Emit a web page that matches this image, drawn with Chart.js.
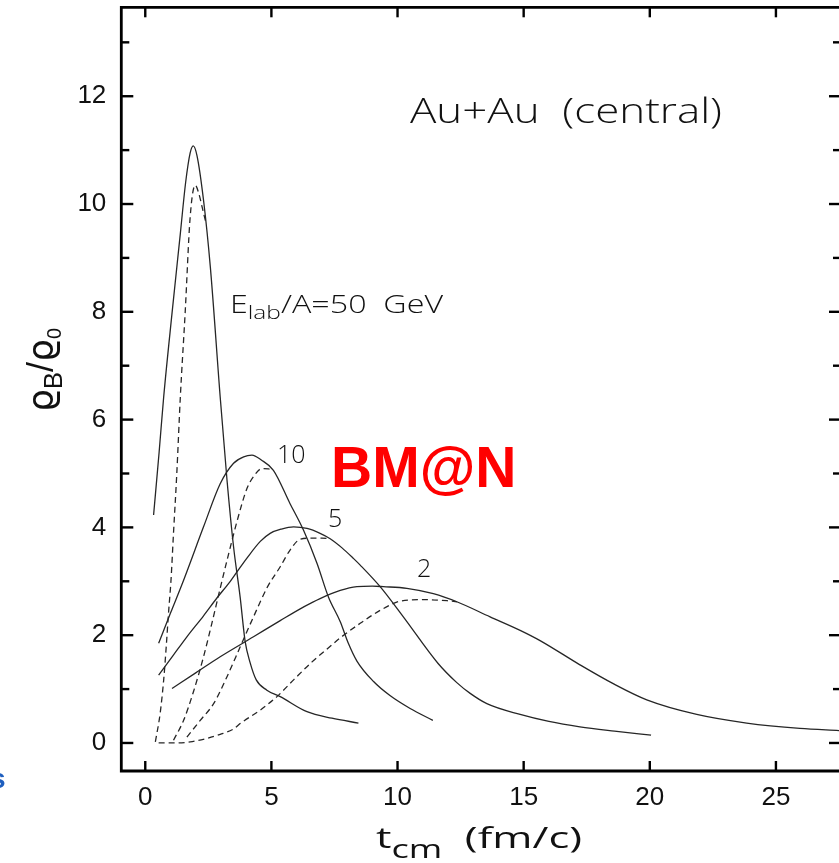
<!DOCTYPE html>
<html>
<head>
<meta charset="utf-8">
<script src="https://cdn.jsdelivr.net/npm/chart.js@4.4.1/dist/chart.umd.min.js"></script>
<style>
  html, body { margin: 0; padding: 0; background: #fff; overflow: hidden; }
  #wrap { position: absolute; left: 0; top: 0; width: 839px; height: 863px; }
</style>
</head>
<body>
<div id="wrap"><canvas id="densityChart" width="839" height="863"></canvas></div>
<script>
// baryon density in central Au+Au, solid and dashed curves per beam energy
const t50 = [0.33, 0.55, 0.73, 1.06, 1.39, 1.6, 1.78, 1.9, 2.05, 2.31, 2.58, 2.97, 3.24, 3.5, 3.76, 3.96, 4.15, 4.4, 4.82, 5.35, 6.41, 7.4, 8.45];
const rho50 = [4.23, 5.4, 6.42, 7.97, 9.45, 10.4, 10.95, 11.08, 10.9, 10.07, 8.83, 6.42, 4.88, 3.64, 2.71, 1.88, 1.5, 1.17, 0.98, 0.86, 0.58, 0.46, 0.37];
const t50d = [0.4, 0.59, 0.73, 0.83, 0.92, 1.02, 1.12, 1.25, 1.39, 1.58, 1.78, 1.98, 2.12, 2.25, 2.4];
const rho50d = [0.02, 0.55, 1.17, 1.78, 2.4, 3.02, 3.9, 5.0, 6.42, 7.97, 9.76, 10.35, 10.2, 9.95, 9.66];

const t10 = [0.53, 1.0, 1.52, 2.31, 2.97, 3.5, 3.9, 4.23, 4.6, 5.08, 5.74, 6.27, 6.81, 7.26, 7.73, 8.05, 8.39, 9.05, 9.7, 10.5, 11.4];
const rho10 = [1.85, 2.41, 3.02, 4.01, 4.81, 5.19, 5.31, 5.34, 5.25, 5.06, 4.44, 3.95, 3.33, 2.71, 2.25, 1.85, 1.52, 1.14, 0.88, 0.64, 0.42];
const t10d = [1.12, 1.52, 1.91, 2.31, 2.64, 2.97, 3.3, 3.63, 4.03, 4.35, 4.62, 5.02];
const rho10d = [0.05, 0.42, 0.95, 1.6, 2.22, 2.87, 3.5, 4.1, 4.72, 4.98, 5.09, 5.08];

const t5 = [0.53, 1.1, 1.65, 2.31, 2.84, 3.37, 3.63, 4.03, 4.56, 4.95, 5.4, 5.88, 6.41, 6.93, 7.33, 7.8, 8.26, 8.52, 9.31, 10.23, 11.6, 12.35, 12.88, 13.54, 14.86, 16.0, 17.23, 18.6, 20.05];
const rho5 = [1.26, 1.62, 1.97, 2.36, 2.69, 3.0, 3.17, 3.43, 3.74, 3.89, 3.97, 4.01, 3.98, 3.89, 3.79, 3.62, 3.42, 3.3, 2.9, 2.34, 1.48, 1.12, 0.92, 0.73, 0.53, 0.4, 0.3, 0.22, 0.145];
const t5d = [1.65, 2.18, 2.71, 3.24, 3.76, 4.29, 4.85, 5.35, 5.74, 6.14, 6.6, 7.0, 7.33];
const rho5d = [0.11, 0.42, 0.73, 1.23, 1.78, 2.34, 2.9, 3.27, 3.58, 3.78, 3.8, 3.8, 3.79];

const t2 = [1.06, 2.0, 2.97, 4.29, 5.35, 6.3, 6.93, 7.73, 8.39, 9.0, 9.44, 10.37, 11.42, 12.35, 13.67, 14.86, 15.65, 17.23, 18.55, 19.88, 21.86, 23.84, 25.95, 27.5];
const rho2 = [1.01, 1.3, 1.6, 1.97, 2.27, 2.53, 2.68, 2.83, 2.9, 2.91, 2.9, 2.87, 2.77, 2.62, 2.34, 2.09, 1.9, 1.45, 1.1, 0.8, 0.53, 0.37, 0.27, 0.23];
const t2d = [0.53, 1.2, 1.78, 2.4, 2.97, 3.5, 3.76, 4.56, 5.22, 5.9, 6.6, 7.3, 7.73, 8.52, 9.31, 10.1, 11.03, 11.96, 12.35];
const rho2d = [0.0, 0.0, 0.02, 0.08, 0.16, 0.26, 0.36, 0.61, 0.86, 1.18, 1.5, 1.78, 1.95, 2.22, 2.46, 2.63, 2.66, 2.64, 2.62];

const xTickValues = [0, 5, 10, 15, 20, 25];
const yTickValues = [0, 1, 2, 3, 4, 5, 6, 7, 8, 9, 10, 11, 12, 13];
const yTickLabels = [0, 2, 4, 6, 8, 10, 12];

const TEXT = '#111';
const LINE = '#262626';

function curve(t, rho, dashed) {
    return {
        data: t.map((v, i) => ({ x: v, y: rho[i] })),
        borderColor: LINE,
        borderWidth: 1.3,
        borderDash: dashed ? [6, 4] : [],
        pointRadius: 0,
        fill: false,
        cubicInterpolationMode: 'monotone'
    };
}

// draws a run of text pieces (main text + subscripts), returns width
function runs(ctx, parts, x, y, draw) {
    let cx = x;
    parts.forEach(p => {
        ctx.font = p.font;
        if (draw) ctx.fillText(p.text, cx, y + (p.dy || 0));
        cx += ctx.measureText(p.text).width;
    });
    return cx - x;
}

function fitRuns(ctx, parts, x, y, width) {
    const w = runs(ctx, parts, 0, 0, false);
    ctx.save();
    ctx.translate(x, y);
    ctx.scale(width / w, 1);
    runs(ctx, parts, 0, 0, true);
    ctx.restore();
}

function seg(ctx, x1, y1, x2, y2) {
    ctx.beginPath();
    ctx.moveTo(x1, y1);
    ctx.lineTo(x2, y2);
    ctx.stroke();
}

const framePlugin = {
    id: 'frame',
    afterDraw(chart) {
        const { ctx, chartArea: a, scales: { x, y } } = chart;
        ctx.save();

        // left, top and bottom axis lines; inward ticks on all four sides
        ctx.strokeStyle = '#000';
        ctx.lineWidth = 2.8;
        ctx.beginPath();
        ctx.moveTo(a.right, a.top);
        ctx.lineTo(a.left, a.top);
        ctx.lineTo(a.left, a.bottom);
        ctx.lineTo(a.right, a.bottom);
        ctx.stroke();
        ctx.lineWidth = 2.4;
        xTickValues.forEach(v => {
            const px = x.getPixelForValue(v);
            seg(ctx, px, a.bottom, px, a.bottom - 10);
            seg(ctx, px, a.top, px, a.top + 10);
        });
        yTickValues.forEach(v => {
            const py = y.getPixelForValue(v);
            const len = yTickLabels.includes(v) ? 12 : 8;
            seg(ctx, a.left, py, a.left + len, py);
            seg(ctx, a.right - len + 2, py, a.right, py);
        });

        ctx.fillStyle = TEXT;
        ctx.textBaseline = 'alphabetic';
        ctx.textAlign = 'left';
        const sans = "'Liberation Sans', Arial, sans-serif";
        const light = "300 25px 'Open Sans', sans-serif";

        // x axis title
        fitRuns(ctx, [
            { text: 't', font: "400 30px 'Open Sans', sans-serif" },
            { text: 'cm', font: "400 25px 'Open Sans', sans-serif", dy: 10 },
            { text: '  (fm/c)', font: "400 30px 'Open Sans', sans-serif" }
        ], 376, 848, 206);

        // y axis title, rotated
        const yt = [
            { text: 'ϱ', font: `36px 'DejaVu Sans', ${sans}` },
            { text: 'B', font: `26px ${sans}`, dy: 9 },
            { text: '/', font: `36px ${sans}` },
            { text: 'ϱ', font: `36px 'DejaVu Sans', ${sans}` },
            { text: '0', font: `20px ${sans}`, dy: 8 }
        ];
        ctx.save();
        ctx.translate(53, 370);
        ctx.rotate(-Math.PI / 2);
        const yw = runs(ctx, yt, 0, 0, false);
        runs(ctx, yt, -yw / 2, 0, true);
        ctx.restore();

        // annotations
        fitRuns(ctx, [{ text: 'Au+Au  (central)', font: "300 34px 'Open Sans', sans-serif" }], 410, 123, 312);
        fitRuns(ctx, [
            { text: 'E', font: light },
            { text: 'lab', font: "300 19px 'Open Sans', sans-serif", dy: 6 },
            { text: '/A=50  GeV', font: light }
        ], 230, 313, 213);
        ctx.font = light;
        ctx.fillText('10', 277, 463);
        ctx.fillText('5', 328, 527);
        ctx.fillText('2', 417, 577);

        ctx.fillStyle = '#ff0000';
        ctx.font = `bold 57px ${sans}`;
        ctx.fillText('BM@N', 331, 487);

        ctx.fillStyle = '#1f5fbf';
        ctx.font = `bold 28px ${sans}`;
        ctx.fillText('s', -10, 788);
        ctx.restore();
    }
};

// keep the plot box fixed: no extra room for overhanging tick labels
function noOverhang(s) {
    s.paddingTop = 0; s.paddingBottom = 0;
    s.paddingLeft = 0; s.paddingRight = 0;
}

const ctx = document.getElementById('densityChart').getContext('2d');
new Chart(ctx, {
    type: 'line',
    data: {
        datasets: [
            curve(t50, rho50, false), curve(t50d, rho50d, true),
            curve(t10, rho10, false), curve(t10d, rho10d, true),
            curve(t5, rho5, false), curve(t5d, rho5d, true),
            curve(t2, rho2, false), curve(t2d, rho2d, true)
        ]
    },
    options: {
        responsive: false,
        animation: false,
        events: [],
        layout: { padding: { top: 7.3, right: 0, left: 0, bottom: 0 } },
        plugins: { legend: { display: false }, tooltip: { enabled: false } },
        scales: {
            x: {
                type: 'linear',
                min: -0.95,
                max: 27.5,
                grid: { display: false, drawTicks: false },
                border: { display: false },
                afterBuildTicks: s => { s.ticks = xTickValues.map(v => ({ value: v })); },
                afterFit: s => { s.height = 92; noOverhang(s); },
                ticks: {
                    font: { family: "'Liberation Sans', Arial, sans-serif", size: 26 },
                    color: TEXT,
                    padding: 11,
                    maxRotation: 0,
                    autoSkip: false
                }
            },
            y: {
                type: 'linear',
                min: -0.52,
                max: 13.65,
                grid: { display: false, drawTicks: false },
                border: { display: false },
                afterBuildTicks: s => { s.ticks = yTickValues.map(v => ({ value: v })); },
                afterFit: s => { s.width = 121.3; noOverhang(s); },
                ticks: {
                    font: { family: "'Liberation Sans', Arial, sans-serif", size: 26 },
                    color: TEXT,
                    padding: 15,
                    autoSkip: false,
                    callback: v => yTickLabels.includes(v) ? String(v) : ''
                }
            }
        }
    },
    plugins: [framePlugin]
});
</script>
</body>
</html>
